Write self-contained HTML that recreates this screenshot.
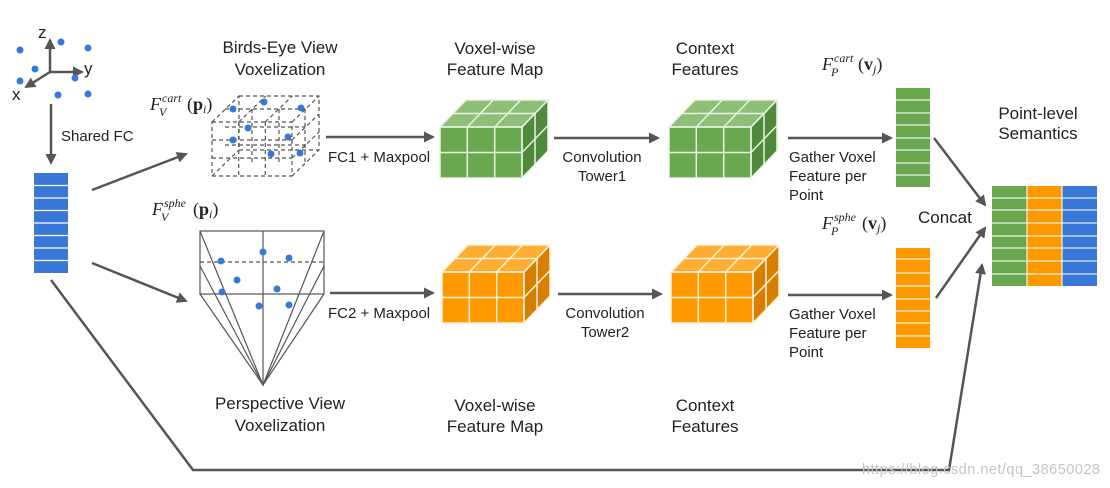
<!DOCTYPE html>
<html><head><meta charset="utf-8"><style>
html,body{margin:0;padding:0;background:#fff;}
svg{display:block;}
.t{font-family:"Liberation Sans",sans-serif;font-size:17px;fill:#222;}
.s{font-family:"Liberation Sans",sans-serif;font-size:15px;fill:#222;}
.m{font-family:"Liberation Serif",serif;font-size:18px;fill:#222;}
.sm{font-family:"Liberation Serif",serif;font-size:12px;font-style:italic;fill:#222;}
.mi{font-style:italic;}
</style></head><body>
<svg width="1110" height="488" viewBox="0 0 1110 488" xmlns="http://www.w3.org/2000/svg">
<defs>
<marker id="ah" markerWidth="12" markerHeight="12" refX="9" refY="6" orient="auto" markerUnits="userSpaceOnUse">
<path d="M0,0.5 L11,6 L0,11.5 z" fill="#555"/></marker>
<g id="cubeG">
<rect x="0" y="0" width="82" height="51" fill="#6aa84f"/>
<polygon points="0,0 82,0 108,-27 26,-27" fill="#8dbf76"/>
<polygon points="82,0 108,-27 108,24 82,51" fill="#4f8a3b"/>
<g stroke="#e8f2e2" stroke-width="1.5" fill="none">
<polygon points="0,0 82,0 108,-27 26,-27"/><polygon points="82,0 108,-27 108,24 82,51"/>
<rect x="0" y="0" width="82" height="51"/>
<line x1="27.3" y1="0" x2="27.3" y2="51"/><line x1="54.7" y1="0" x2="54.7" y2="51"/><line x1="0" y1="25.5" x2="82" y2="25.5"/>
<line x1="27.3" y1="0" x2="53.3" y2="-27"/><line x1="54.7" y1="0" x2="80.7" y2="-27"/><line x1="13" y1="-13.5" x2="95" y2="-13.5"/>
<line x1="95" y1="-13.5" x2="95" y2="37.5"/><line x1="82" y1="25.5" x2="108" y2="-1.5"/>
</g></g>
<g id="cubeO">
<rect x="0" y="0" width="82" height="51" fill="#ff9900"/>
<polygon points="0,0 82,0 108,-27 26,-27" fill="#ffad33"/>
<polygon points="82,0 108,-27 108,24 82,51" fill="#d67f00"/>
<g stroke="#fff0d8" stroke-width="1.5" fill="none">
<polygon points="0,0 82,0 108,-27 26,-27"/><polygon points="82,0 108,-27 108,24 82,51"/>
<rect x="0" y="0" width="82" height="51"/>
<line x1="27.3" y1="0" x2="27.3" y2="51"/><line x1="54.7" y1="0" x2="54.7" y2="51"/><line x1="0" y1="25.5" x2="82" y2="25.5"/>
<line x1="27.3" y1="0" x2="53.3" y2="-27"/><line x1="54.7" y1="0" x2="80.7" y2="-27"/><line x1="13" y1="-13.5" x2="95" y2="-13.5"/>
<line x1="95" y1="-13.5" x2="95" y2="37.5"/><line x1="82" y1="25.5" x2="108" y2="-1.5"/>
</g></g>
</defs>

<g stroke="#555" stroke-width="2.5" fill="none">
<line x1="50" y1="72" x2="50" y2="40" marker-end="url(#ah)"/>
<line x1="50" y1="72" x2="82" y2="72" marker-end="url(#ah)"/>
<line x1="50" y1="72" x2="26" y2="87" marker-end="url(#ah)"/>
</g>
<text class="t" x="38" y="38">z</text><text class="t" x="84" y="74">y</text><text class="t" x="12" y="100">x</text>
<g fill="#3a78d8">
<circle cx="20" cy="50" r="3.5"/><circle cx="61" cy="42" r="3.5"/><circle cx="88" cy="48" r="3.5"/><circle cx="35" cy="69" r="3.5"/>
<circle cx="75" cy="78" r="3.5"/><circle cx="20" cy="81" r="3.5"/><circle cx="58" cy="95" r="3.5"/><circle cx="88" cy="94" r="3.5"/>
</g>
<line x1="51" y1="104" x2="51" y2="163" stroke="#555" stroke-width="2.5" marker-end="url(#ah)"/>
<text class="s" x="61" y="141">Shared FC</text>

<rect x="34" y="173" width="34" height="100" fill="#3a78d8"/>
<g stroke="#fff" stroke-width="1.2">
<line x1="34" y1="185.5" x2="68" y2="185.5"/><line x1="34" y1="198" x2="68" y2="198"/><line x1="34" y1="210.5" x2="68" y2="210.5"/>
<line x1="34" y1="223" x2="68" y2="223"/><line x1="34" y1="235.5" x2="68" y2="235.5"/><line x1="34" y1="248" x2="68" y2="248"/><line x1="34" y1="260.5" x2="68" y2="260.5"/>
</g>
<g stroke="#555" stroke-width="2.5" fill="none">
<line x1="92" y1="190" x2="186" y2="154" marker-end="url(#ah)"/>
<line x1="92" y1="263" x2="186" y2="301" marker-end="url(#ah)"/>
<polyline points="51,280 193,470 949,470 982,265" marker-end="url(#ah)"/>
</g>

<g stroke="#555" stroke-width="1.2" fill="none" stroke-dasharray="4,3">
<rect x="239" y="96" width="80" height="54"/>
<rect x="212" y="122" width="80" height="54"/>
<line x1="212" y1="122" x2="239" y2="96"/><line x1="292" y1="122" x2="319" y2="96"/><line x1="292" y1="176" x2="319" y2="150"/><line x1="212" y1="176" x2="239" y2="150"/>
<line x1="238.7" y1="122" x2="238.7" y2="176"/><line x1="265.3" y1="122" x2="265.3" y2="176"/><line x1="212" y1="140" x2="292" y2="140"/><line x1="212" y1="158" x2="292" y2="158"/>
<line x1="238.7" y1="122" x2="265.7" y2="96"/><line x1="265.3" y1="122" x2="292.3" y2="96"/>
<line x1="225" y1="109" x2="305" y2="109"/><line x1="305" y1="109" x2="305" y2="163"/>
<line x1="292" y1="140" x2="319" y2="114"/><line x1="292" y1="158" x2="319" y2="132"/>
<line x1="252" y1="109" x2="252" y2="163"/><line x1="279" y1="109" x2="279" y2="163"/><line x1="225" y1="127" x2="305" y2="127"/><line x1="225" y1="145" x2="305" y2="145"/>
</g>
<g fill="#3a78d8">
<circle cx="233" cy="109" r="3.5"/><circle cx="264" cy="102" r="3.5"/><circle cx="301" cy="108" r="3.5"/><circle cx="248" cy="128" r="3.5"/>
<circle cx="233" cy="140" r="3.5"/><circle cx="288" cy="137" r="3.5"/><circle cx="271" cy="154" r="3.5"/><circle cx="300" cy="153" r="3.5"/>
</g>
<text class="t" x="280" y="53" text-anchor="middle">Birds-Eye View</text>
<text class="t" x="280" y="75" text-anchor="middle">Voxelization</text>
<text class="m mi" x="150" y="110">F</text><text class="sm" x="159" y="116">V</text><text class="sm" x="162" y="102">cart</text>
<text class="m" x="187" y="110">(<tspan font-weight="bold">p</tspan><tspan class="sm" dy="3">i</tspan><tspan dy="-3">)</tspan></text>

<g stroke="#555" stroke-width="1.2" fill="none">
<rect x="200" y="231" width="124" height="63"/>
<line x1="263" y1="231" x2="263" y2="385"/>
<polyline points="200,231 263,385 324,231"/>
<polyline points="200,266 263,385 324,266"/>
<polyline points="200,294 263,385 324,294"/>
<line x1="200" y1="262" x2="324" y2="262" stroke-dasharray="4,3"/>
</g>
<g fill="#3a78d8">
<circle cx="221" cy="261" r="3.5"/><circle cx="263" cy="252" r="3.5"/><circle cx="289" cy="258" r="3.5"/><circle cx="237" cy="280" r="3.5"/>
<circle cx="277" cy="289" r="3.5"/><circle cx="222" cy="292" r="3.5"/><circle cx="259" cy="306" r="3.5"/><circle cx="289" cy="305" r="3.5"/>
</g>
<text class="m mi" x="152" y="215">F</text><text class="sm" x="161" y="221">V</text><text class="sm" x="164" y="207">sphe</text>
<text class="m" x="193" y="215">(<tspan font-weight="bold">p</tspan><tspan class="sm" dy="3">i</tspan><tspan dy="-3">)</tspan></text>
<text class="t" x="280" y="409" text-anchor="middle">Perspective View</text>
<text class="t" x="280" y="431" text-anchor="middle">Voxelization</text>

<g stroke="#555" stroke-width="2.5" fill="none">
<line x1="326" y1="137" x2="433" y2="137" marker-end="url(#ah)"/>
<line x1="330" y1="293" x2="433" y2="293" marker-end="url(#ah)"/>
<line x1="554" y1="138" x2="658" y2="138" marker-end="url(#ah)"/>
<line x1="558" y1="294" x2="661" y2="294" marker-end="url(#ah)"/>
<line x1="788" y1="138" x2="891" y2="138" marker-end="url(#ah)"/>
<line x1="788" y1="295" x2="891" y2="295" marker-end="url(#ah)"/>
<line x1="934" y1="138" x2="985" y2="205" marker-end="url(#ah)"/>
<line x1="936" y1="298" x2="985" y2="228" marker-end="url(#ah)"/>
</g>
<text class="s" x="328" y="162">FC1 + Maxpool</text>
<text class="s" x="328" y="318">FC2 + Maxpool</text>

<use href="#cubeG" x="440" y="127"/>
<use href="#cubeG" x="669" y="127"/>
<use href="#cubeO" x="442" y="272"/>
<use href="#cubeO" x="671" y="272"/>

<text class="s" x="602" y="162" text-anchor="middle">Convolution</text>
<text class="s" x="602" y="181" text-anchor="middle">Tower1</text>
<text class="s" x="605" y="318" text-anchor="middle">Convolution</text>
<text class="s" x="605" y="337" text-anchor="middle">Tower2</text>

<text class="t" x="495" y="54" text-anchor="middle">Voxel-wise</text>
<text class="t" x="495" y="75" text-anchor="middle">Feature Map</text>
<text class="t" x="705" y="54" text-anchor="middle">Context</text>
<text class="t" x="705" y="75" text-anchor="middle">Features</text>
<text class="t" x="495" y="411" text-anchor="middle">Voxel-wise</text>
<text class="t" x="495" y="432" text-anchor="middle">Feature Map</text>
<text class="t" x="705" y="411" text-anchor="middle">Context</text>
<text class="t" x="705" y="432" text-anchor="middle">Features</text>

<text class="s" x="789" y="162">Gather Voxel</text>
<text class="s" x="789" y="181">Feature per</text>
<text class="s" x="789" y="200">Point</text>
<text class="s" x="789" y="319">Gather Voxel</text>
<text class="s" x="789" y="338">Feature per</text>
<text class="s" x="789" y="357">Point</text>

<rect x="896" y="88" width="34" height="99" fill="#6aa84f"/>
<g stroke="#e8f2e2" stroke-width="1.2">
<line x1="896" y1="100" x2="930" y2="100"/><line x1="896" y1="113" x2="930" y2="113"/><line x1="896" y1="125" x2="930" y2="125"/><line x1="896" y1="138" x2="930" y2="138"/>
<line x1="896" y1="150" x2="930" y2="150"/><line x1="896" y1="163" x2="930" y2="163"/><line x1="896" y1="175" x2="930" y2="175"/>
</g>
<rect x="896" y="248" width="34" height="100" fill="#ff9900"/>
<g stroke="#fff0d8" stroke-width="1.2">
<line x1="896" y1="259" x2="930" y2="259"/><line x1="896" y1="273" x2="930" y2="273"/><line x1="896" y1="286" x2="930" y2="286"/><line x1="896" y1="299" x2="930" y2="299"/>
<line x1="896" y1="311" x2="930" y2="311"/><line x1="896" y1="323" x2="930" y2="323"/><line x1="896" y1="336" x2="930" y2="336"/>
</g>
<text class="m mi" x="822" y="70">F</text><text class="sm" x="831" y="76">P</text><text class="sm" x="834" y="62">cart</text>
<text class="m" x="858" y="70">(<tspan font-weight="bold">v</tspan><tspan class="sm" dy="3">j</tspan><tspan dy="-3">)</tspan></text>
<text class="m mi" x="822" y="229">F</text><text class="sm" x="831" y="235">P</text><text class="sm" x="834" y="221">sphe</text>
<text class="m" x="862" y="229">(<tspan font-weight="bold">v</tspan><tspan class="sm" dy="3">j</tspan><tspan dy="-3">)</tspan></text>
<text class="t" x="918" y="223">Concat</text>

<rect x="992" y="186" width="35" height="100" fill="#6aa84f"/>
<rect x="1027" y="186" width="35" height="100" fill="#ff9900"/>
<rect x="1062" y="186" width="35" height="100" fill="#3a78d8"/>
<g stroke="#fff" stroke-width="1.2" opacity="0.85">
<line x1="1027" y1="186" x2="1027" y2="286"/><line x1="1062" y1="186" x2="1062" y2="286"/>
<line x1="992" y1="198" x2="1097" y2="198"/><line x1="992" y1="210" x2="1097" y2="210"/><line x1="992" y1="223" x2="1097" y2="223"/><line x1="992" y1="236" x2="1097" y2="236"/>
<line x1="992" y1="248" x2="1097" y2="248"/><line x1="992" y1="261" x2="1097" y2="261"/><line x1="992" y1="274" x2="1097" y2="274"/>
</g>
<text class="t" x="1038" y="119" text-anchor="middle">Point-level</text>
<text class="t" x="1038" y="139" text-anchor="middle">Semantics</text>

<text x="862" y="474" font-family="Liberation Sans,sans-serif" font-size="14.5" fill="#c4c4c4" textLength="238">https://blog.csdn.net/qq_38650028</text>
</svg>
</body></html>
